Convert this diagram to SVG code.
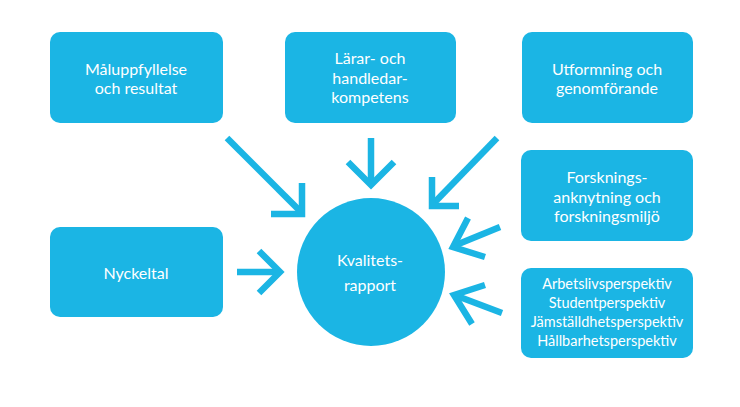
<svg xmlns="http://www.w3.org/2000/svg" width="740" height="407" viewBox="0 0 740 407">
<style>
.box{fill:#1bb5e4}
.t{fill:#ffffff;font-family:Lato,"Open Sans",sans-serif;font-size:16px;text-anchor:middle}
.s{font-size:14.5px}
.a{fill:none;stroke:#1bb5e4;stroke-width:6.5;stroke-linecap:butt;stroke-linejoin:miter}
</style>
<rect width="740" height="407" fill="#ffffff"/>
<g id="malupp">
<rect class="box" x="50" y="32" width="173" height="91" rx="10"/>
<text class="t" x="136" y="75">Måluppfyllelse</text>
<text class="t" x="136" y="94">och resultat</text>
</g>
<g id="larar">
<rect class="box" x="285" y="32" width="171" height="91" rx="10"/>
<text class="t" x="370" y="64">Lärar- och</text>
<text class="t" x="370" y="84">handledar-</text>
<text class="t" x="370" y="103">kompetens</text>
</g>
<g id="utformning">
<rect class="box" x="522" y="32" width="171" height="91" rx="10"/>
<text class="t" x="607" y="75">Utformning och</text>
<text class="t" x="607" y="94">genomförande</text>
</g>
<g id="forskning">
<rect class="box" x="521" y="150" width="172" height="91" rx="10"/>
<text class="t" x="607" y="183">Forsknings-</text>
<text class="t" x="607" y="203">anknytning och</text>
<text class="t" x="607" y="222">forskningsmiljö</text>
</g>
<g id="perspektiv">
<rect class="box" x="521" y="268" width="172" height="90" rx="10"/>
<text class="t s" x="607" y="289">Arbetslivsperspektiv</text>
<text class="t s" x="607" y="308">Studentperspektiv</text>
<text class="t s" x="607" y="327">Jämställdhetsperspektiv</text>
<text class="t s" x="607" y="346">Hållbarhetsperspektiv</text>
</g>
<g id="nyckeltal">
<rect class="box" x="50" y="227" width="173" height="90" rx="10"/>
<text class="t" x="136" y="279">Nyckeltal</text>
</g>
<g id="kvalitetsrapport">
<circle class="box" cx="371" cy="272" r="74"/>
<text class="t" x="370" y="266">Kvalitets-</text>
<text class="t" x="370" y="291">rapport</text>
</g>
<g id="connectors">
<path class="a" d="M227,138 L300,211"/>
<path class="a" d="M302,183 L302,214 L271,214"/>
<path class="a" d="M371,138 L371,182"/>
<path class="a" d="M348,162 L371,185 L394,162"/>
<path class="a" d="M497,138 L434,203"/>
<path class="a" d="M432,177 L432,206 L459,206"/>
<path class="a" d="M500,227 L456,245"/>
<path class="a" d="M468,218 L453,247 L485,257"/>
<path class="a" d="M502,313 L457,296"/>
<path class="a" d="M485,285 L454,295 L472,324"/>
<path class="a" d="M237,272 L280,272"/>
<path class="a" d="M259,251 L280,272 L259,293"/>
</g>
</svg>
